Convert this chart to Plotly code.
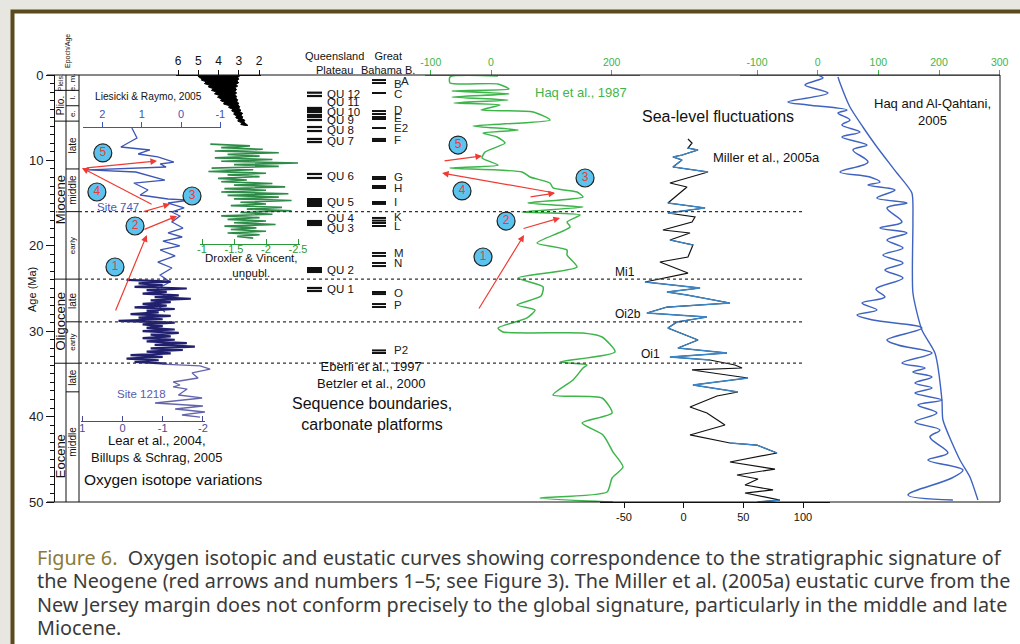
import plotly.graph_objects as go

# ------------------------------------------------------------------
# DATA
# ------------------------------------------------------------------
# Liesicki & Raymo (2005) benthic d18O stack (envelope of the dense signal)
lr_age = [0.0, 0.15, 0.3, 0.45, 0.6, 0.8, 1.0, 1.2, 1.4, 1.6, 1.8, 2.0, 2.2, 2.4, 2.6, 2.8,
          3.0, 3.2, 3.4, 3.6, 3.8, 4.0, 4.2, 4.4, 4.6, 4.8, 5.0, 5.2, 5.4, 5.6, 5.8, 5.9,
          5.9, 5.7, 5.5, 5.3, 5.1, 4.9, 4.7, 4.5, 4.3, 4.1, 3.9, 3.7, 3.5, 3.3, 3.1, 2.9,
          2.7, 2.5, 2.3, 2.1, 1.9, 1.7, 1.5, 1.3, 1.1, 0.9, 0.7, 0.5, 0.3, 0.1, 0.0]
lr_val = [5.05, 5.0, 4.95, 4.8, 4.85, 4.6, 4.7, 4.45, 4.5, 4.25, 4.35, 4.1, 4.2, 3.95, 4.05, 3.85,
          3.9, 3.7, 3.75, 3.45, 3.5, 3.3, 3.35, 3.2, 3.25, 3.1, 3.15, 3.0, 3.05, 2.85, 2.9, 2.7,
          2.55, 2.65, 2.75, 2.7, 2.85, 2.8, 2.9, 2.8, 2.95, 2.9, 3.0, 2.95, 3.05, 3.0, 3.1, 3.05,
          3.15, 3.1, 3.2, 3.1, 3.2, 3.1, 3.2, 3.05, 3.15, 3.0, 3.1, 3.0, 3.05, 2.95, 3.05]

# ODP Site 747 d18O
s747_age = [6.21, 7.38, 8.43, 8.78, 9.25, 9.60, 10.19, 10.42, 10.77, 11.12, 11.36, 12.30, 12.65,
            13.47, 14.05, 14.52, 14.64, 14.99, 15.57, 16.04, 16.51, 17.21, 17.92, 18.50, 18.97,
            19.44, 20.02, 20.49, 21.19, 21.90, 22.60, 23.42, 24.24, 25.18, 26.11, 26.93, 27.75]
s747_val = [1.25, 1.12, 1.53, 0.79, 1.09, 0.59, 0.18, 0.53, 0.38, 2.37, 1.15, 0.41, 1.20,
            0.84, 1.04, 0.33, -0.23, 0.33, -0.08, 0.23, 0.03, 0.23, -0.05, 0.33, -0.03,
            0.46, 0.03, 0.53, 0.15, 0.59, 0.23, 0.53, 0.28, 0.66, 0.33, 0.59, 0.41]

# Lear et al. 2004 / Billups & Schrag 2005 (Oligocene, dense)
lear_age = [24.0, 24.2, 24.4, 24.6, 24.8, 25.0, 25.2, 25.4, 25.6, 25.8, 26.0, 26.2, 26.4, 26.6,
            26.8, 27.0, 27.2, 27.4, 27.6, 27.8, 28.0, 28.2, 28.4, 28.6, 28.8, 29.0, 29.2, 29.4,
            29.6, 29.8, 30.0, 30.2, 30.4, 30.6, 30.8, 31.0, 31.2, 31.4, 31.6, 31.8, 32.0, 32.2,
            32.4, 32.6, 32.8, 33.0, 33.2, 33.4, 33.6, 33.8]
lear_val = [-0.1, -1.2, -0.4, -1.0, -0.3, -1.6, -0.6, -1.1, -0.5, -1.4, -0.8, -1.7, -0.7, -1.2,
            -0.5, -1.1, -0.3, -1.3, -0.6, -0.9, -0.2, -1.2, -0.4, -1.0, 0.1, -1.3, -0.5, -1.0,
            -0.6, -1.3, -0.5, -1.4, -0.7, -1.2, -0.5, -1.3, -0.6, -1.6, -0.8, -1.8, -0.7, -1.5,
            -0.6, -1.2, -0.2, -1.0, -0.1, -0.9, -0.3, -1.1]
# Site 1218 (Eocene part)
s1218_age = [33.85, 34.07, 34.43, 34.89, 35.48, 35.95, 36.30, 36.53, 36.77, 37.47, 37.82, 38.41,
             38.76, 39.11, 39.46, 39.81, 40.05]
s1218_val = [-0.98, -1.93, -2.18, -1.73, -1.88, -1.26, -1.43, -1.26, -1.61, -1.39, -1.98, -0.81,
             -2.0, -1.31, -2.05, -1.48, -1.93]

# Droxler & Vincent (unpubl.)
drox_age = [8.1, 8.3, 8.5, 8.7, 8.9, 9.1, 9.3, 9.5, 9.7, 9.9, 10.1, 10.3, 10.5, 10.7, 10.9, 11.1,
            11.3, 11.5, 11.7, 11.9, 12.1, 12.3, 12.5, 12.7, 12.9, 13.1, 13.3, 13.5, 13.7, 13.9,
            14.1, 14.3, 14.5, 14.7, 14.9, 15.1, 15.3, 15.5, 15.7, 15.9, 16.1, 16.3, 16.5, 16.7,
            16.9, 17.1, 17.3, 17.5, 17.7, 17.9, 18.1, 18.3, 18.5, 18.7, 18.9, 19.1]
drox_val = [-1.13, -1.75, -1.3, -1.95, -1.2, -2.2, -1.4, -1.9, -1.2, -2.1, -1.3, -2.5, -1.5, -2.2,
            -1.15, -1.8, -1.1, -2.0, -1.4, -1.9, -1.25, -1.7, -1.3, -2.1, -1.5, -2.3, -1.35, -2.0,
            -1.3, -2.35, -1.4, -2.2, -1.5, -2.4, -1.6, -2.0, -1.45, -2.25, -1.7, -2.4, -1.6, -2.1,
            -1.3, -1.9, -1.4, -2.0, -1.5, -2.15, -1.35, -1.85, -1.45, -2.0, -1.4, -1.9, -1.55, -1.8]

# Haq et al. (1987) sea level (m)
haq87_age = [0.12, 0.23, 0.94, 1.05, 1.64, 1.87, 2.22, 2.58, 2.93, 3.28, 3.51, 4.10, 4.33, 5.27,
             5.97, 6.44, 6.79, 7.26, 7.96, 9.02, 9.72, 10.54, 10.89, 11.36, 11.94, 12.65, 13.23,
             13.70, 14.29, 14.99, 15.46, 16.04, 16.39, 17.21, 17.80, 19.67, 20.49, 21.08, 22.48,
             23.77, 24.82, 25.88, 26.93, 27.52, 28.45, 29.63, 30.09, 30.21, 30.68, 32.44, 33.61,
             33.96, 34.31, 35.71, 37.47, 37.82, 39.58, 40.75, 42.15, 44.15, 45.90, 47.19, 48.83,
             49.53, 50.0]
haq87_val = [11.6, -68.0, -68.0, 11.6, 29.8, -64.6, 29.8, -64.6, 28.2, -61.3, 14.9, -16.6, 69.6,
             97.8, -29.8, 44.8, -13.3, 9.9, 23.2, -9.9, -14.9, 11.6, -68.0, 51.4, 64.6, 97.8, 102.8,
             142.5, 152.5, 61.3, 152.5, 51.4, 147.5, 126.0, 131.0, 76.2, 126.0, 126.0, 142.5,
             44.8, 86.2, 82.9, 43.1, 72.9, 59.7, 11.6, 19.9, 152.5, 184.0, 205.5, 114.4,
             159.1, 152.5, 135.9, 102.8, 184.0, 200.6, 150.8, 185.6, 202.2, 218.8, 200.6, 192.3,
             81.2, 202.2]

# Miller et al. (2005a) sea level (m)
miller_age = [7.49, 7.96, 8.55, 8.78, 9.37, 9.60, 9.95, 10.77, 11.36, 11.94, 12.65, 13.11, 14.29,
              14.99, 15.57, 16.16, 16.63, 17.21, 18.15, 18.50, 19.32, 19.91, 21.31, 21.90, 23.19,
              24.24, 24.94, 25.41, 25.76, 26.70, 27.17, 27.87, 28.34, 28.92, 29.63, 31.03, 31.97,
              32.55, 33.02, 33.37, 33.96, 34.31, 34.54, 35.48, 36.30, 37.12, 37.59, 38.88, 39.58,
              40.98, 42.15, 43.09, 43.33, 44.26, 45.32, 46.14, 46.84, 47.31, 48.01, 48.59, 48.95,
              49.77, 50.0]
miller_val = [3.6, 7.0, 3.6, 12.0, -1.4, -9.0, -1.4, -9.0, 20.4, 5.3, -11.5, 2.8, -7.3,
              -13.2, 17.9, -13.2, 9.5, 7.0, -17.4, 5.3, -11.5, 7.8, 3.6, -19.9, 3.6,
              -32.4, 13.7, -14.0, 2.8, 38.8, -14.0, -30.8, 19.5, -5.6, -13.2, 12.0, -4.8,
              36.3, -11.5, 22.0, 43.0, 48.9, 7.0, 53.9, 7.8, 45.5, 27.9, 5.3, 19.5,
              34.6, 5.3, 38.8, 61.4, 78.2, 38.8, 76.5, 44.7, 62.3, 51.4, 74.9, 51.4,
              80.7, 62.0]

# Haq & Al-Qahtani (2005) sea level (m): oscillating curve and long-term curve
hq05_age = [0.0, 0.35, 0.59, 1.17, 2.11, 3.16, 3.51, 4.10, 4.45, 5.27, 5.85, 6.67, 7.26, 8.20, 8.78,
            10.19, 11.36, 11.94, 12.53, 12.88, 13.47, 14.40, 14.99, 15.57, 17.21, 17.92, 18.50,
            19.32, 20.26, 21.08, 22.01, 22.83, 23.77, 25.06, 26.0, 26.70, 27.52, 28.10, 28.69,
            29.63, 31.03, 31.62, 32.55, 33.72, 34.31, 34.78, 35.36, 36.07, 36.65, 37.24, 38.06,
            38.64, 39.58, 40.63, 41.57, 42.39, 44.26, 45.08, 46.25, 47.19, 49.18, 49.77]
hq05_val = [0.5, 8.7, 0.5, -20.9, 17.0, -49.0, -16.0, 48.3, 33.5, 53.2, 40.0, 69.7, 40.0, 81.2, 58.2,
            82.9, 36.8, 86.2, 102.6, 82.9, 127.4, 97.7, 147.2, 114.2, 138.9, 102.6, 147.2,
            114.2, 140.6, 107.6, 140.6, 110.9, 140.6, 96.1, 110.9, 73.0, 97.7, 64.8, 91.1,
            171.8, 114.2, 132.3, 188.3, 138.9, 176.8, 157.0, 188.3, 160.3, 188.3, 160.3, 204.8,
            165.2, 196.5, 160.3, 201.5, 185.0, 214.7, 181.7, 239.4, 221.3, 148.8, 222.9]
hq05s_age = [0.23, 0.94, 3.75, 6.09, 8.43, 11.48, 13.82, 16.98, 25.53, 29.86, 32.55, 38.06, 40.40,
             45.08, 47.07, 49.77]
hq05s_val = [33.5, 36.8, 53.2, 74.5, 97.7, 130.6, 155.3, 157.0, 157.0, 171.8, 193.3, 204.8, 206.5,
             234.5, 250.9, 264.1]

# Sequence boundaries, Queensland Plateau
qu_line_ages = [2.07, 2.46, 3.86, 4.10, 4.33, 4.68, 4.92, 5.27, 6.09, 6.56, 7.49, 7.85, 11.59, 12.06,
                17.10, 17.33, 17.56, 24.94, 25.29]
qu_block_ages = [(14.40, 15.46), (22.48, 23.19)]
qu_labels = ["QU 12", "QU 11", "QU 10", "QU 9", "QU 8", "QU 7", "QU 6", "QU 5", "QU 4", "QU 3",
             "QU 2", "QU 1"]
qu_label_ages = [2.25, 3.15, 4.35, 5.25, 6.45, 7.75, 11.85, 14.9, 16.75, 17.95, 22.85, 25.05]

# Sequence boundaries, Great Bahama Bank
bah_line_ages = [0.59, 0.94, 2.11, 4.22, 4.57, 4.92, 5.15, 6.21, 7.49, 7.73, 11.94, 12.18, 13.0, 13.23,
                 14.87, 15.10, 16.74, 17.05, 17.33, 17.68, 20.84, 21.19, 22.01, 22.37, 25.41, 25.65,
                 26.82, 27.17, 32.25, 32.55]
bah_labels = ["A", "B", "C", "D", "E", "E2", "F", "G", "H", "I", "K", "L", "M", "N", "O", "P", "P2"]
bah_label_ages = [0.7, 1.05, 2.2, 4.1, 5.0, 6.2, 7.6, 11.9, 13.2, 14.9, 16.6, 17.7, 20.8, 22.0,
                  25.5, 26.9, 32.2]

# Major boundaries (dotted lines)
boundary_ages = [16.0, 23.9, 28.9, 33.75]

# Chronostratigraphy
epoch_names = ["Pleis.", "Plio.", "Miocene", "Oligocene", "Eocene"]
epoch_label_ages = [0.9, 3.6, 14.6, 28.8, 44.7]
epoch_bounds = [1.8, 5.4, 23.9, 33.75]
stage_names = ["e. m.", "l.", "e.", "late", "middle", "early", "late", "early", "late", "middle"]
stage_label_ages = [0.9, 2.7, 4.5, 8.2, 13.5, 20.0, 26.4, 31.3, 35.4, 43.0]
stage_bounds = [3.6, 11.0, 16.0, 28.9, 37.1]

# Red arrows and numbered circles (1..5)
circ_num = ["1", "2", "3", "4", "5"]
arr747_tail_age = [27.75, 18.15, 16.04, 15.22, 10.89]
arr747_tail_val = [1.68, 0.97, 0.99, 0.71, 2.44]
arr747_head_age = [18.74, 16.51, 15.11, 10.89, 10.07]
arr747_head_val = [0.87, 0.10, 0.28, 2.52, 0.61]
circ747_age = [22.48, 17.68, 14.17, 13.70, 9.13]
circ747_val = [1.68, 1.17, -0.28, 2.14, 1.99]

arrhaq_tail_age = [27.52, 18.03, 14.29, 13.82, 10.07]
arrhaq_tail_val = [-21.5, 51.4, 63.0, 106.1, -79.6]
arrhaq_head_age = [18.74, 16.74, 13.82, 11.48, 9.48]
arrhaq_head_val = [54.7, 114.4, 106.1, -81.2, -14.9]
circhaq_age = [21.31, 17.10, 12.06, 13.58, 8.20]
circhaq_val = [-13.3, 24.9, 155.8, -48.1, -54.7]

# Tick labels
lr_ticks = [6, 5, 4, 3, 2]
s747_ticks = [2, 1, 0, -1]
lear_ticks = [1, 0, -1, -2]
drox_ticks = [-1, -1.5, -2, -2.5]
haq87_ticks = [-100, 0, 200]
miller_ticks = [-50, 0, 50, 100]
hq05_ticks = [-100, 0, 100, 200, 300]

# ------------------------------------------------------------------
# LAYOUT GEOMETRY
# ------------------------------------------------------------------
W, H = 1020, 644
ML, MR, MT, MB = 55, 20, 75, 142
PW, PH = W - ML - MR, H - MT - MB


def PX(px):
    return (px - ML) / PW


def PY(py):
    return (H - MB - py) / PH


def rng(v1, p1, v2, p2, pa=ML, pb=ML + PW):
    s = (p2 - p1) / (v2 - v1)
    return [v1 + (pa - p1) / s, v1 + (pb - p1) / s]


FONT = "Liberation Sans, Arial, sans-serif"
BLUE747 = "#3d55b5"
NAVY = "#20206e"
PURPLE = "#6466ad"
DGREEN = "#2e8b48"
LGREEN = "#3db54a"
HQBLUE = "#3f63c1"
MBLUE = "#3a86c8"
RED = "#ee3b33"
BG = "#e8e6e0"

# calibrations (value, pixel) pairs for each panel
cal = {
    "lr": (6, 178, 2, 259),
    "s747": (2, 102.4, -1, 220.3),
    "lear": (1, 82.3, -2, 202.9),
    "drox": (-1, 202, -2.5, 298),
    "haq87": (-100, 430.7, 200, 611.7),
    "miller": (-50, 624, 100, 803),
    "hq05": (-100, 757, 300, 999.7),
}

fig = go.Figure()

# data axes (overlaying full plot area)
data_axes = {"lr": "x2", "s747": "x3", "lear": "x4", "drox": "x5", "haq87": "x6",
             "miller": "x7", "hq05": "x8"}
layout_axes = {}
for k, ax in data_axes.items():
    c = cal[k]
    layout_axes["xaxis" + ax[1:]] = dict(range=rng(*c), overlaying="x", visible=False,
                                         anchor="y", showgrid=False, zeroline=False)

# display axes (ticks)
disp = [
    ("x9", "lr", 176, 261, 75, "top", "outside", lr_ticks, "#111", 12, 0),
    ("x10", "s747", 83, 221, 127, "top", "outside", s747_ticks, BLUE747, 11, 0),
    ("x11", "lear", 81, 205, 421, "bottom", "inside", lear_ticks, "#4a4a90", 11, -3),
    ("x12", "drox", 200, 300, 244, "bottom", "inside", drox_ticks, "#2a9a3a", 11, -5),
    ("x13", "haq87", 425, 640, 75, "top", "outside", haq87_ticks, LGREEN, 10.5, 0),
    ("x14", "miller", 600, 830, 502, "bottom", "outside", miller_ticks, "#111", 11, 0),
    ("x15", "hq05", 740, 1000, 75, "top", "outside", hq05_ticks, LGREEN, 10.5, 0),
]
for ax, k, pa, pb, py, side, tk, tv, col, fs, so in disp:
    c = cal[k]
    layout_axes["xaxis" + ax[1:]] = dict(
        domain=[PX(pa), PX(pb)], range=rng(*c, pa=pa, pb=pb), anchor="free", position=PY(py),
        side=side, ticks=tk, ticklen=5, tickwidth=1, tickcolor=col, showline=True,
        linecolor=col, linewidth=1, tickmode="array", tickvals=tv, ticklabelstandoff=so,
        ticktext=[str(t) for t in tv], tickfont=dict(size=fs, color=col, family=FONT),
        showgrid=False, zeroline=False)
    fig.add_trace(go.Scatter(x=[None], y=[None], xaxis=ax, yaxis="y", showlegend=False,
                             hoverinfo="skip"))

# ------------------------------------------------------------------
# TRACES
# ------------------------------------------------------------------
fig.add_trace(go.Scatter(x=lr_val, y=lr_age, xaxis="x2", mode="lines", fill="toself",
                         fillcolor="#000", line=dict(color="#000", width=1), showlegend=False))
fig.add_trace(go.Scatter(x=s747_val, y=s747_age, xaxis="x3", mode="lines",
                         line=dict(color=BLUE747, width=1.3), showlegend=False))
fig.add_trace(go.Scatter(x=lear_val, y=lear_age, xaxis="x4", mode="lines",
                         line=dict(color=NAVY, width=2.2), showlegend=False))
fig.add_trace(go.Scatter(x=s1218_val, y=s1218_age, xaxis="x4", mode="lines",
                         line=dict(color=PURPLE, width=1.3), showlegend=False))
fig.add_trace(go.Scatter(x=drox_val, y=drox_age, xaxis="x5", mode="lines",
                         line=dict(color=DGREEN, width=1.6), showlegend=False))
fig.add_trace(go.Scatter(x=haq87_val, y=haq87_age, xaxis="x6", mode="lines",
                         line=dict(color=LGREEN, width=1.5, shape="spline", smoothing=0.6),
                         showlegend=False))
fig.add_trace(go.Scatter(x=miller_val, y=miller_age, xaxis="x7", mode="lines",
                         line=dict(color="#111", width=1.2), showlegend=False))
blue_ranges = [(8.5, 11.5), (14.5, 16.5), (19.0, 21.0), (23.5, 30.5), (31.0, 33.5), (35.0, 37.5),
               (43.0, 44.5), (49.5, 50.1)]
mb = [v if any(a <= t <= b for a, b in blue_ranges) else None for t, v in zip(miller_age, miller_val)]
fig.add_trace(go.Scatter(x=mb, y=miller_age, xaxis="x7", mode="lines", connectgaps=False,
                         line=dict(color=MBLUE, width=1.3), showlegend=False))
fig.add_trace(go.Scatter(x=hq05_val, y=hq05_age, xaxis="x8", mode="lines",
                         line=dict(color=HQBLUE, width=1.5, shape="spline", smoothing=1.0),
                         showlegend=False))
fig.add_trace(go.Scatter(x=hq05s_val, y=hq05s_age, xaxis="x8", mode="lines",
                         line=dict(color=HQBLUE, width=1.4, shape="spline", smoothing=0.6),
                         showlegend=False))

# numbered circles
for ax, vals, ages in (("x3", circ747_val, circ747_age), ("x6", circhaq_val, circhaq_age)):
    fig.add_trace(go.Scatter(x=vals, y=ages, xaxis=ax, mode="markers+text", text=circ_num,
                             textposition="middle center",
                             textfont=dict(color=RED, size=12, family=FONT),
                             marker=dict(size=18, color="#5cc3ee", line=dict(color="#222", width=1.2)),
                             showlegend=False, hoverinfo="skip"))

annotations = []
# red arrows
for ax, ta, tv, ha, hv in (("x3", arr747_tail_age, arr747_tail_val, arr747_head_age, arr747_head_val),
                           ("x6", arrhaq_tail_age, arrhaq_tail_val, arrhaq_head_age, arrhaq_head_val)):
    for i in range(len(ta)):
        annotations.append(dict(x=hv[i], y=ha[i], xref=ax, yref="y", ax=tv[i], ay=ta[i],
                                axref=ax, ayref="y", text="", showarrow=True, arrowhead=2,
                                arrowsize=1.1, arrowwidth=1.2, arrowcolor=RED, standoff=0))

shapes = []
# frame
shapes.append(dict(type="rect", xref="paper", yref="paper", x0=PX(12.5), x1=PX(1040),
                   y0=PY(660), y1=PY(11.5), fillcolor="white", line=dict(color="#5b4a1c", width=4),
                   layer="below"))
# plot box
LK = dict(color="#111", width=1)
shapes += [
    dict(type="line", xref="paper", yref="paper", x0=PX(47), x1=1, y0=1, y1=1, line=LK),
    dict(type="line", xref="paper", yref="paper", x0=PX(47), x1=1, y0=0, y1=0, line=LK),
    dict(type="line", xref="paper", yref="paper", x0=1, x1=1, y0=0, y1=1, line=LK),
    dict(type="line", xref="paper", yref="paper", x0=PX(79), x1=PX(79), y0=0, y1=1, line=LK),
    dict(type="line", xref="paper", yref="paper", x0=PX(66), x1=PX(66), y0=0, y1=1, line=LK),
]
for a in epoch_bounds:
    shapes.append(dict(type="line", xref="paper", yref="y", x0=PX(55), x1=PX(79), y0=a, y1=a, line=LK))
for a in stage_bounds:
    shapes.append(dict(type="line", xref="paper", yref="y", x0=PX(66), x1=PX(79), y0=a, y1=a, line=LK))
for a in boundary_ages:
    shapes.append(dict(type="line", xref="paper", yref="y", x0=PX(79), x1=PX(803), y0=a, y1=a,
                       line=dict(color="#333", width=1.2, dash="dot")))
for a in qu_line_ages:
    shapes.append(dict(type="line", xref="paper", yref="y", x0=PX(307), x1=PX(322), y0=a, y1=a,
                       line=dict(color="#111", width=2.2)))
for a, b in qu_block_ages:
    shapes.append(dict(type="rect", xref="paper", yref="y", x0=PX(307), x1=PX(322), y0=a, y1=b,
                       fillcolor="#111", line=dict(width=0)))
for a in bah_line_ages:
    shapes.append(dict(type="line", xref="paper", yref="y", x0=PX(372), x1=PX(386), y0=a, y1=a,
                       line=dict(color="#111", width=2)))


def txt(px, py, s, size=12, color="#111", angle=0, xanchor="center", align="center", yref="paper",
        family=FONT):
    annotations.append(dict(x=PX(px), y=(PY(py) if yref == "paper" else py), xref="paper", yref=yref,
                            text=s, showarrow=False, textangle=angle, xanchor=xanchor,
                            yanchor="middle", align=align,
                            font=dict(size=size, color=color, family=family)))


for lab, a in zip(qu_labels, qu_label_ages):
    txt(325, a, lab, size=11.5, xanchor="left", yref="y")
for lab, a in zip(bah_labels, bah_label_ages):
    txt(399 if lab == "A" else 392, a, lab, size=11.5, color="#222", xanchor="left", yref="y")

for lab, a in zip(epoch_names, epoch_label_ages):
    sz = {"Pleis.": 7, "Plio.": 10}.get(lab, 13)
    txt(60.5, a, lab, size=sz, angle=-90, yref="y")
for lab, a in zip(stage_names, stage_label_ages):
    sz = 8 if len(lab) <= 5 and lab != "late" else 10
    txt(72.5, a, lab, size=sz, angle=-90, yref="y")

txt(68, 51, "Epoch/Age", size=7, angle=-90)
txt(32, 290, "Age (Ma)", size=11, angle=-90)
txt(148, 96, "Liesicki &amp; Raymo, 2005", size=10.2)
txt(118, 207, "Site 747", size=11.5, color="#4a5bb5")
txt(141, 394, "Site 1218", size=11.5, color="#5a5ca8")
txt(251, 265.5, "Droxler &amp; Vincent,<br>unpubl.", size=11.5)
txt(157, 449, "Lear et al., 2004,<br>Billups &amp; Schrag, 2005", size=13)
txt(173, 479, "Oxygen isotope variations", size=15.5)
txt(334, 63, "Queensland<br>Plateau", size=11)
txt(388, 63, "Great<br>Bahama B.", size=11)
txt(371, 375, "Eberli et al., 1997<br>Betzler et al., 2000", size=13)
txt(372, 414, "Sequence boundaries,<br>carbonate platforms", size=16)
txt(581, 92, "Haq et al., 1987", size=13, color=LGREEN)
txt(718, 116, "Sea-level fluctuations", size=16)
txt(766, 157, "Miller et al., 2005a", size=13)
txt(932, 112, "Haq and Al-Qahtani,<br>2005", size=13)
txt(625, 272, "Mi1", size=12)
txt(628, 314, "Oi2b", size=12)
txt(650, 354, "Oi1", size=12)

cap = [
    "<span style='color:#8b7a36'>Figure 6.</span>&nbsp; Oxygen isotopic and eustatic curves showing "
    "correspondence to the stratigraphic signature of",
    "the Neogene (red arrows and numbers 1–5; see Figure 3). The Miller et al. (2005a) eustatic curve "
    "from the",
    "New Jersey margin does not conform precisely to the global signature, particularly in the middle "
    "and late",
    "Miocene.",
]
for i, line in enumerate(cap):
    txt(35, 557 + 23.5 * i, line, size=19.8, color="#3a3a3a", xanchor="left", align="left",
        family="Noto Sans, Liberation Sans, sans-serif")

layout_axes["xaxis"] = dict(domain=[0, 1], range=[ML, ML + PW], visible=False, anchor="y")
fig.update_layout(
    width=W, height=H, margin=dict(l=ML, r=MR, t=MT, b=MB, autoexpand=False),
    paper_bgcolor=BG, plot_bgcolor="rgba(0,0,0,0)",
    font=dict(family=FONT, color="#111"),
    yaxis=dict(domain=[0, 1], range=[50, 0], anchor="x", showline=True, linecolor="#111",
               linewidth=1, ticks="outside", ticklen=8, tickcolor="#111", tickmode="linear",
               tick0=0, dtick=10, tickfont=dict(size=13, color="#222", family=FONT),
               minor=dict(ticks="outside", ticklen=4, tickcolor="#111", tickmode="linear",
                          tick0=0, dtick=1),
               showgrid=False, zeroline=False),
    shapes=shapes, annotations=annotations, showlegend=False,
    **layout_axes,
)

fig.write_html("out.html", config={"displayModeBar": False},
               post_script="document.body.style.margin='0';document.body.style.background='%s';" % BG)
